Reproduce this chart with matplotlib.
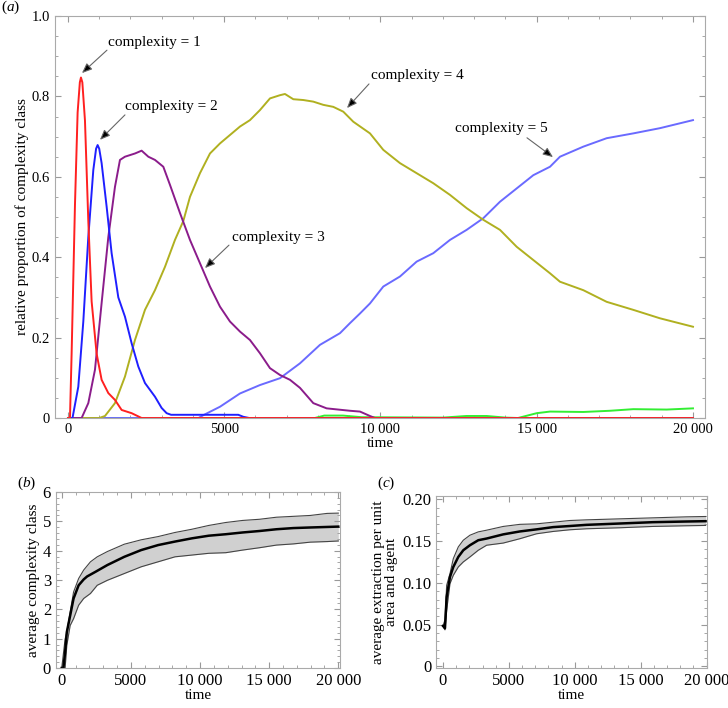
import matplotlib.pyplot as plt
from matplotlib.ticker import MultipleLocator

plt.rcParams['font.family'] = ['Liberation Serif', 'DejaVu Serif']
plt.rcParams['mathtext.fontset'] = 'custom'
plt.rcParams['mathtext.it'] = 'Liberation Serif:italic'
plt.rcParams['mathtext.rm'] = 'Liberation Serif'

# (a) relative proportion of each complexity class
t1 = [0, 64, 117, 224, 309, 380, 416, 460, 544, 651, 757, 917, 1077, 1291, 1504, 1717, 2037, 2357, 20000]
c1 = [0, 0, 0.16, 0.53, 0.76, 0.835, 0.847, 0.835, 0.74, 0.49, 0.29, 0.16, 0.095, 0.062, 0.045, 0.02,
      0.012, 0, 0]

t2 = [0, 145, 331, 491, 651, 811, 900, 949, 1000, 1077, 1237, 1397, 1611, 1824, 2037, 2251, 2464,
      2784, 2997, 3157, 3300, 4500, 5450, 5610, 5800, 20000]
c2 = [0, 0, 0.078, 0.24, 0.45, 0.617, 0.67, 0.679, 0.67, 0.634, 0.526, 0.41, 0.30, 0.252, 0.186,
      0.128, 0.087, 0.053, 0.025, 0.012, 0.008, 0.008, 0.008, 0.003, 0, 0]

t3 = [0, 437, 651, 864, 1077, 1291, 1504, 1664, 1824, 2144, 2357, 2571, 2784, 3051, 3264,
      3584, 3904, 4224, 4544, 4864, 5184, 5504, 5824, 6144, 6464, 6784, 7104, 7424, 7850,
      8277, 9024, 9344, 9664, 9824, 20000]
c3 = [0, 0, 0.037, 0.12, 0.286, 0.45, 0.575, 0.642, 0.65, 0.658, 0.665, 0.65, 0.642, 0.625,
      0.58, 0.51, 0.443, 0.385, 0.327, 0.277, 0.24, 0.215, 0.194, 0.161, 0.124, 0.107, 0.095,
      0.075, 0.037, 0.024, 0.018, 0.016, 0.005, 0, 0]

t4 = [0, 1000, 1184, 1504, 1824, 2144, 2464, 2784, 3104, 3424, 3691, 3904, 4224, 4544, 4864,
      5184, 5504, 5824, 6144, 6464, 6784, 6944, 7210, 7530, 7850, 8170, 8490, 8810, 9130,
      9664, 10090, 10624, 11157, 11690, 12224, 12757, 13290, 13824, 14357, 14890, 15424,
      15744, 16490, 17237, 18090, 18944, 20000]
c4 = [0, 0, 0.005, 0.037, 0.103, 0.194, 0.269, 0.318, 0.376, 0.443, 0.49, 0.55, 0.609, 0.658,
      0.683, 0.704, 0.725, 0.741, 0.766, 0.795, 0.803, 0.806, 0.793, 0.791, 0.787, 0.779,
      0.774, 0.762, 0.737, 0.708, 0.667, 0.634, 0.609, 0.584, 0.555, 0.522, 0.493, 0.468,
      0.426, 0.393, 0.36, 0.339, 0.318, 0.289, 0.269, 0.248, 0.227]

t5 = [0, 4180, 4330, 4864, 5504, 6144, 6784, 7424, 8064, 8704, 9024, 9344, 9664, 10090, 10624,
      11157, 11690, 12224, 12757, 13290, 13824, 14357, 14890, 15424, 15744, 16490, 17237,
      18090, 18944, 20000]
c5 = [0, 0, 0.007, 0.028, 0.061, 0.082, 0.099, 0.136, 0.182, 0.211, 0.236, 0.26, 0.285, 0.327,
      0.352, 0.389, 0.41, 0.443, 0.468, 0.497, 0.538, 0.571, 0.604, 0.625, 0.65, 0.675, 0.696,
      0.708, 0.721, 0.741]

t6 = [0, 7900, 8200, 8800, 9400, 12000, 12750, 13400, 14000, 14400, 15000, 15424, 16490, 17344,
      18090, 19157, 20000]
c6 = [0, 0, 0.006, 0.006, 0.002, 0.001, 0.005, 0.005, 0.001, 0.0, 0.012, 0.016, 0.015, 0.018,
      0.022, 0.021, 0.024]

labels = ['complexity = 1', 'complexity = 2', 'complexity = 3', 'complexity = 4', 'complexity = 5']
label_xy = [(1280, 0.933), (1824, 0.774), (5248, 0.45), (9696, 0.853), (12384, 0.719)]
arrow_from = [(1248, 0.915), (1824, 0.754), (5152, 0.43), (9632, 0.831), (14688, 0.697)]
arrow_to = [(448, 0.858), (1024, 0.692), (4384, 0.373), (8928, 0.771), (15520, 0.649)]

# (b) average complexity class
tb = [0, 122, 245, 367, 611, 856, 1223, 1589, 1834, 2445, 3301, 4523, 5746, 6968, 8191, 9413,
      10636, 11858, 13081, 14303, 15526, 16748, 17971, 20000]
b_mean = [0, 0, 0.54, 1.22, 1.79, 2.37, 2.82, 3.02, 3.12, 3.28, 3.51, 3.79, 4.02, 4.19, 4.31,
          4.42, 4.51, 4.56, 4.62, 4.67, 4.73, 4.77, 4.79, 4.82]
tb_band = [0, 245, 367, 611, 856, 1223, 1589, 2078, 2567, 3301, 4523, 5746, 6968, 8191, 9413,
           10636, 11858, 13081, 14303, 15526, 16748, 17971, 19193, 20000]
b_upper = [0, 0.99, 1.22, 1.91, 2.59, 3.05, 3.34, 3.62, 3.79, 3.97, 4.22, 4.37, 4.48, 4.62, 4.73,
           4.86, 4.96, 5.03, 5.07, 5.14, 5.17, 5.2, 5.27, 5.28]
b_lower = [0, 0, 0.77, 1.45, 1.68, 2.14, 2.37, 2.54, 2.82, 2.99, 3.22, 3.45, 3.62, 3.79, 3.85,
           3.91, 3.93, 4.02, 4.10, 4.19, 4.23, 4.29, 4.31, 4.33]

# (c) average extraction per unit area and agent
tc = [0, 150, 278, 530, 783, 1162, 1540, 2045, 2677, 3308, 4570, 5833, 7095, 8358, 9620,
      10883, 12145, 13408, 14670, 15933, 17195, 18458, 19922]
c_mean = [0.0484, 0.0456, 0.083, 0.107, 0.119, 0.131, 0.139, 0.145, 0.151, 0.153, 0.158, 0.1615,
          0.164, 0.1667, 0.168, 0.1694, 0.1702, 0.171, 0.1718, 0.1726, 0.173, 0.1734, 0.1738]
c_upper = [0.0484, 0.0556, 0.097, 0.111, 0.129, 0.143, 0.151, 0.157, 0.161, 0.163, 0.1675, 0.170,
           0.1706, 0.1726, 0.1746, 0.1754, 0.176, 0.1766, 0.1772, 0.1778, 0.1784, 0.179, 0.1794]
c_lower = [0.0484, 0.0437, 0.067, 0.099, 0.109, 0.119, 0.125, 0.131, 0.139, 0.145, 0.1476, 0.1528,
           0.1587, 0.1615, 0.1635, 0.1647, 0.1653, 0.1659, 0.1667, 0.1675, 0.1679, 0.1683, 0.1687]

xt = [0, 5000, 10000, 15000, 20000]
xt_labels = ['0', '5000', '10 000', '15 000', '20 000']


def style_axes(ax, size):
    for s in ax.spines.values():
        s.set_color('#aaaaaa')
    ax.tick_params(which='both', direction='in', top=True, right=True, colors='#999999',
                   labelcolor='black', labelsize=size)
    ax.tick_params(which='major', length=4)
    ax.tick_params(which='minor', length=2)
    ax.set_xticks(xt)
    ax.set_xticklabels(xt_labels)
    ax.xaxis.set_minor_locator(MultipleLocator(1000))


fig = plt.figure(figsize=(7.28, 7.08), dpi=100)

ax = fig.add_axes([0.0755, 0.4096, 0.8929, 0.5678])
ax.plot(t6, c6, color='#33ee33', lw=1.4)
ax.plot(t5, c5, color='#6a6aff', lw=1.4)
ax.plot(t4, c4, color='#b0b020', lw=1.4)
ax.plot(t3, c3, color='#8b1c8b', lw=1.4)
ax.plot(t2, c2, color='#1f1fff', lw=1.4)
ax.plot(t1, c1, color='#ff2020', lw=1.4)
for lab, pxy, a0, a1 in zip(labels, label_xy, arrow_from, arrow_to):
    ax.text(pxy[0], pxy[1], lab, fontsize=11, va='center', ha='left')
    ax.annotate('', xy=a1, xytext=a0,
                arrowprops=dict(arrowstyle='-|>,head_length=0.6,head_width=0.25',
                                fc='black', ec='#666666', lw=0.8, shrinkA=0, shrinkB=0))
ax.set_xlim(-416, 20384)
ax.set_ylim(0, 1)
style_axes(ax, 10.5)
ax.set_yticks([0, 0.2, 0.4, 0.6, 0.8, 1.0])
ax.set_yticklabels(['0', '0.2', '0.4', '0.6', '0.8', '1.0'])
ax.yaxis.set_minor_locator(MultipleLocator(0.05))
ax.set_xlabel('time', fontsize=11, labelpad=1)
ax.set_ylabel('relative proportion of complexity class', fontsize=11, labelpad=2)

axb = fig.add_axes([0.0769, 0.0565, 0.3901, 0.2486])
axb.fill_between(tb_band, b_lower, b_upper, color='#d0d0d0', lw=0)
axb.plot(tb_band, b_upper, color='#444444', lw=0.8)
axb.plot(tb_band, b_lower, color='#444444', lw=0.8)
axb.plot(tb, b_mean, color='black', lw=1.8)
axb.set_xlim(-415, 20120)
axb.set_ylim(0, 6)
style_axes(axb, 12)
axb.set_yticks(range(7))
axb.yaxis.set_minor_locator(MultipleLocator(0.2))
axb.set_xlabel('time', fontsize=11, labelpad=0)
axb.set_ylabel('average complexity class', fontsize=11, labelpad=2)

axc = fig.add_axes([0.5989, 0.0565, 0.3723, 0.2430])
axc.fill_between(tc, c_lower, c_upper, color='#d0d0d0', lw=0)
axc.plot(tc, c_upper, color='#444444', lw=0.8)
axc.plot(tc, c_lower, color='#444444', lw=0.8)
axc.plot(tc, c_mean, color='black', lw=1.8)
axc.set_xlim(-530, 20030)
axc.set_ylim(-0.002, 0.204)
style_axes(axc, 12)
axc.set_yticks([0, 0.05, 0.10, 0.15, 0.20])
axc.set_yticklabels(['0', '0.05', '0.10', '0.15', '0.20'])
axc.yaxis.set_minor_locator(MultipleLocator(0.01))
axc.set_xlabel('time', fontsize=11, labelpad=0)
axc.set_ylabel('average extraction per unit\narea and agent', fontsize=11, labelpad=3,
               linespacing=1.0)

fig.text(0.002, 0.989, r'($a$)', fontsize=11, va='center', ha='left')
fig.text(0.023, 0.318, r'($b$)', fontsize=11, va='center', ha='left')
fig.text(0.518, 0.318, r'($c$)', fontsize=11, va='center', ha='left')

fig.savefig('out.png', dpi=100)
